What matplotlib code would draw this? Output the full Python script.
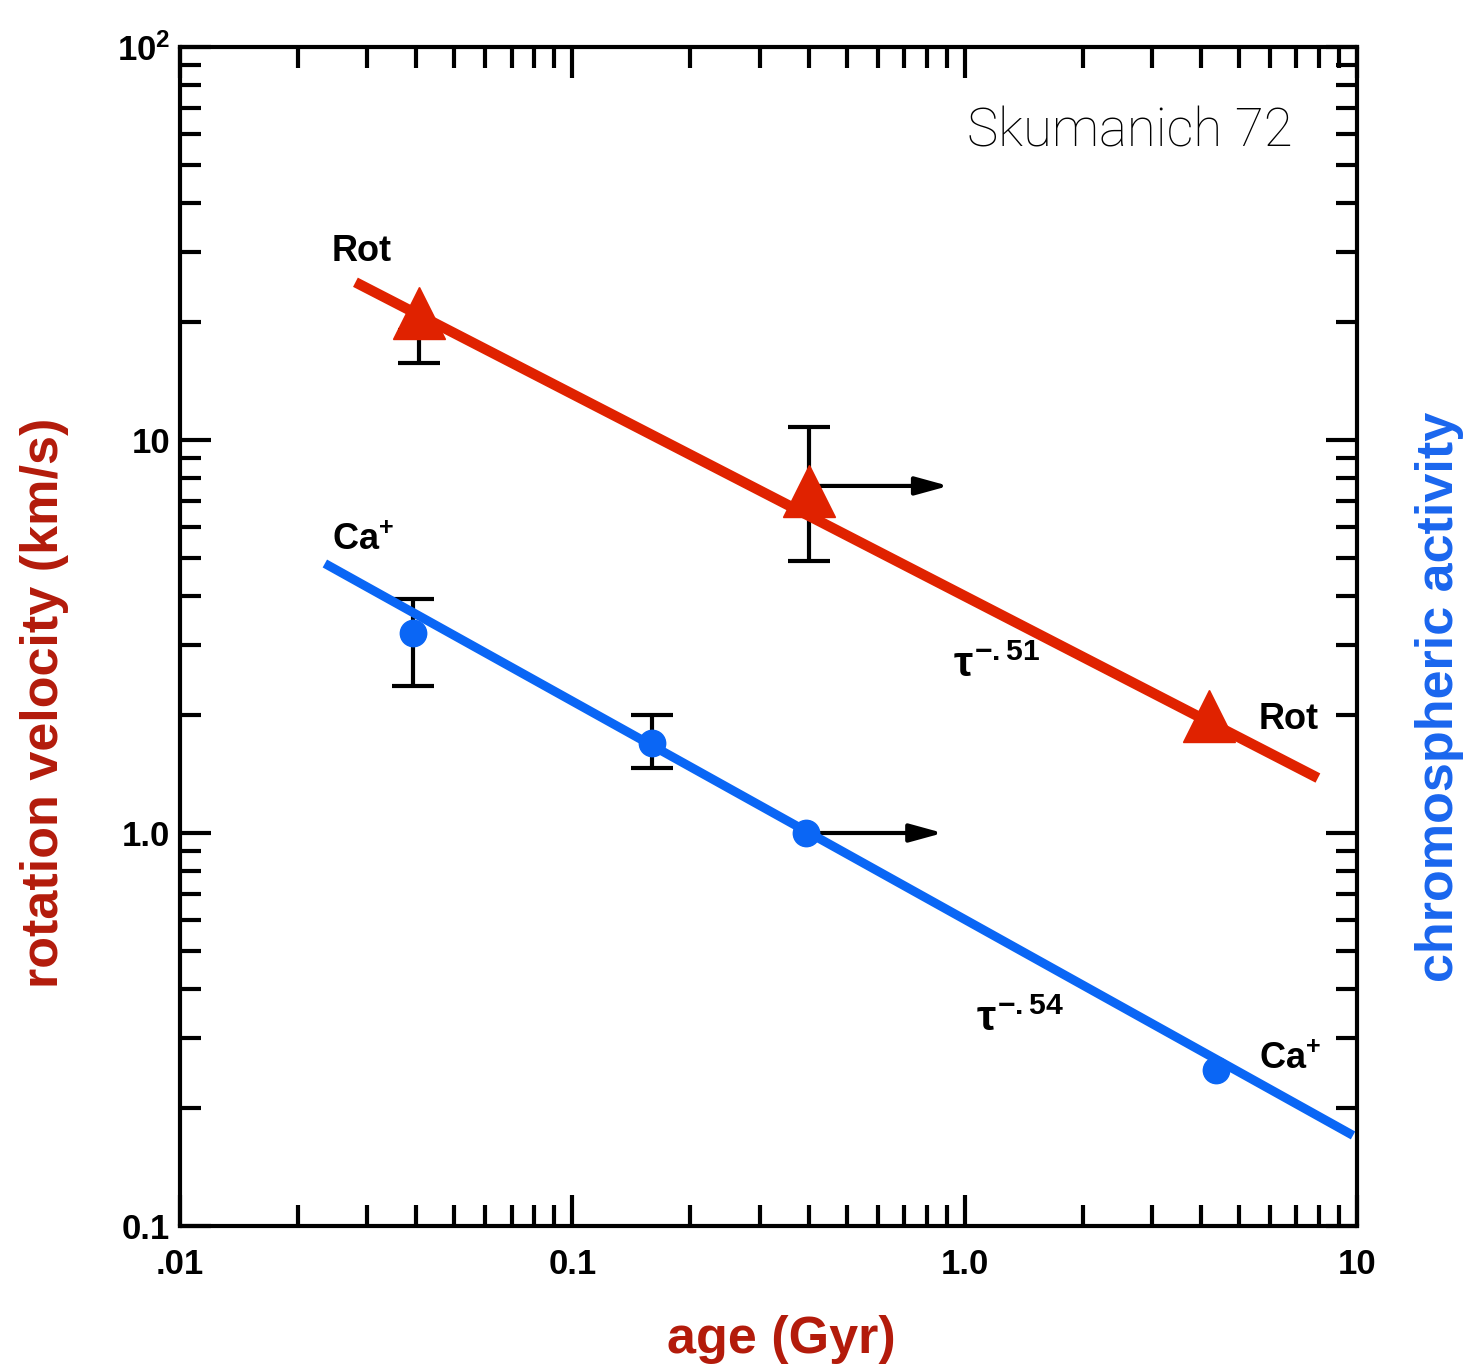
import matplotlib
matplotlib.use("Agg")
import matplotlib.pyplot as plt
from matplotlib.ticker import FixedLocator, FixedFormatter, NullFormatter, LogLocator

plt.rcParams["mathtext.fontset"] = "custom"
plt.rcParams["mathtext.rm"] = "Liberation Sans:bold"
plt.rcParams["mathtext.bf"] = "Liberation Sans:bold"
plt.rcParams["mathtext.it"] = "Liberation Sans:bold"
plt.rcParams["mathtext.sf"] = "Liberation Sans:bold"

# ---------------- data ----------------
rot_age = [0.0407, 0.40, 4.19]
rot_vel = [21.1, 7.42, 1.99]
# error bars of the scanned plot (only where drawn); upper end of the first is hidden by its marker
rot_err_age = [0.0407, 0.40]
rot_err_lo = [15.7, 4.93]
rot_err_hi = [19.0, 10.8]

ca_age = [0.0393, 0.160, 0.395, 4.37]
ca_act = [3.22, 1.69, 1.00, 0.249]
ca_err_age = [0.0393, 0.160]
ca_err_lo = [2.37, 1.46]
ca_err_hi = [3.95, 2.00]

rot_fit_age = [0.0280, 7.95]
rot_fit_val = [25.2, 1.38]
ca_fit_age = [0.0234, 9.77]
ca_fit_val = [4.85, 0.170]

# lower-limit arrows (from age, to age, level)
arrow_from = [0.40, 0.395]
arrow_to = [0.91, 0.88]
arrow_level = [7.64, 1.00]

xtick_vals = [0.01, 0.1, 1.0, 10]
xtick_labels = [".01", "0.1", "1.0", "10"]
ytick_vals = [0.1, 1.0, 10, 100]
ytick_labels = ["0.1", "1.0", "10", "10$^2$"]

RED = "#e02200"
BLUE = "#0a66f5"
LABEL_RED = "#b31b0b"
LABEL_BLUE = "#1a66ee"

W, H = 1465, 1367
fig = plt.figure(figsize=(W / 100, H / 100), dpi=100)
L, R, T, B = 180, 1357, 47, 1226
ax = fig.add_axes([L / W, 1 - B / H, (R - L) / W, (B - T) / H])
ax.set_xscale("log")
ax.set_yscale("log")
ax.set_xlim(0.01, 10)
ax.set_ylim(0.1, 100)

for s in ax.spines.values():
    s.set_linewidth(3)

ax.xaxis.set_major_locator(FixedLocator(xtick_vals))
ax.xaxis.set_major_formatter(FixedFormatter(xtick_labels))
ax.yaxis.set_major_locator(FixedLocator(ytick_vals))
ax.yaxis.set_major_formatter(FixedFormatter(ytick_labels))
ax.xaxis.set_minor_locator(LogLocator(base=10, subs=range(2, 10)))
ax.yaxis.set_minor_locator(LogLocator(base=10, subs=range(2, 10)))
ax.xaxis.set_minor_formatter(NullFormatter())
ax.yaxis.set_minor_formatter(NullFormatter())
ax.tick_params(which="both", direction="in", top=True, right=True, width=3)
ax.tick_params(which="major", length=22)
ax.tick_params(which="minor", length=15)
for lab in ax.get_xticklabels() + ax.get_yticklabels():
    lab.set_fontfamily("Liberation Sans")
    lab.set_fontweight("bold")
    lab.set_fontsize(25)
ax.tick_params(axis="x", pad=16)
ax.tick_params(axis="y", pad=7)

# error bars (black, from original scan): drawn from lower end upward
ax.errorbar(rot_err_age, rot_err_lo,
            yerr=[[0] * len(rot_err_lo), [hi - lo for lo, hi in zip(rot_err_lo, rot_err_hi)]],
            fmt="none", ecolor="black", elinewidth=3, capsize=15, capthick=3, zorder=2)
ax.errorbar(ca_err_age, ca_err_lo,
            yerr=[[0] * len(ca_err_lo), [hi - lo for lo, hi in zip(ca_err_lo, ca_err_hi)]],
            fmt="none", ecolor="black", elinewidth=3, capsize=15, capthick=3, zorder=2)

for a0, a1, lv in zip(arrow_from, arrow_to, arrow_level):
    ax.annotate("", xy=(a1, lv), xytext=(a0, lv),
                arrowprops=dict(arrowstyle="-|>,head_length=0.8,head_width=0.22",
                                lw=3, color="black", shrinkA=0, shrinkB=0,
                                mutation_scale=25), zorder=2)

# fits
ax.plot(rot_fit_age, rot_fit_val, color=RED, lw=7.5, solid_capstyle="butt", zorder=3)
ax.plot(ca_fit_age, ca_fit_val, color=BLUE, lw=6.5, solid_capstyle="butt", zorder=3)

# points
ax.plot(rot_age, rot_vel, linestyle="none", marker="^", ms=38, color=RED, zorder=4)
ax.plot(ca_age, ca_act, linestyle="none", marker="o", ms=19, color=BLUE, zorder=4)

# annotations from the scanned figure
tkw = dict(fontfamily="Liberation Sans", fontweight="bold", fontsize=26, color="black")
ax.text(0.0244, 30.2, "Rot", ha="left", va="center", **tkw)
ax.text(0.0244, 5.54, "Ca$^{+}$", ha="left", va="center", **tkw)
ax.text(5.62, 1.95, "Rot", ha="left", va="center", **tkw)
ax.text(5.62, 0.265, "Ca$^{+}$", ha="left", va="center", **tkw)
tau_kw = dict(tkw, fontsize=31)
ax.text(0.932, 2.66, r"$\tau^{-.51}$", ha="left", va="center", **tau_kw)
ax.text(1.067, 0.335, r"$\tau^{-.54}$", ha="left", va="center", **tau_kw)

ax.text(0.9456, 0.928, "Skumanich 72", transform=ax.transAxes, ha="right", va="center",
        fontsize=38, fontfamily="Roboto", fontweight="light", color="black")

# axis titles
fig.text(45 / W, 1 - 703 / H, "rotation velocity (km/s)", rotation=90, ha="center", va="center",
         fontsize=37.5, fontweight="bold", fontfamily="Liberation Sans", color=LABEL_RED)
fig.text(1440 / W, 1 - 697 / H, "chromospheric activity", rotation=90, ha="center", va="center",
         fontsize=37.5, fontweight="bold", fontfamily="Liberation Sans", color=LABEL_BLUE)
fig.text(781 / W, 1 - 1340 / H, "age (Gyr)", ha="center", va="center",
         fontsize=37.5, fontweight="bold", fontfamily="Liberation Sans", color=LABEL_RED)

fig.savefig("out.png", dpi=100)
